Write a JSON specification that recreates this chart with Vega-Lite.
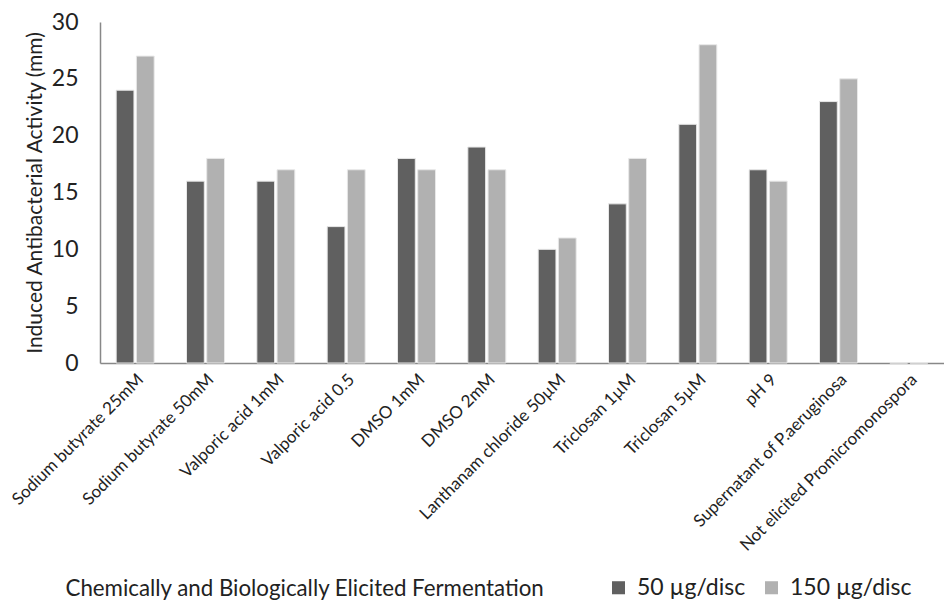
{
  "$schema": "https://vega.github.io/schema/vega-lite/v6.json",
  "width": 844,
  "height": 341,
  "autosize": "none",
  "padding": {"left": 100, "top": 22, "right": 0, "bottom": 240},
  "background": "white",
  "config": {"view": {"stroke": null}, "font": "Lato"},
  "data": {"values": [
    {"category": "Sodium butyrate 25mM", "dose": "50 µg/disc", "value": 24},
    {"category": "Sodium butyrate 25mM", "dose": "150 µg/disc", "value": 27},
    {"category": "Sodium butyrate 50mM", "dose": "50 µg/disc", "value": 16},
    {"category": "Sodium butyrate 50mM", "dose": "150 µg/disc", "value": 18},
    {"category": "Valporic acid 1mM", "dose": "50 µg/disc", "value": 16},
    {"category": "Valporic acid 1mM", "dose": "150 µg/disc", "value": 17},
    {"category": "Valporic acid 0.5", "dose": "50 µg/disc", "value": 12},
    {"category": "Valporic acid 0.5", "dose": "150 µg/disc", "value": 17},
    {"category": "DMSO 1mM", "dose": "50 µg/disc", "value": 18},
    {"category": "DMSO 1mM", "dose": "150 µg/disc", "value": 17},
    {"category": "DMSO 2mM", "dose": "50 µg/disc", "value": 19},
    {"category": "DMSO 2mM", "dose": "150 µg/disc", "value": 17},
    {"category": "Lanthanam chloride 50µM", "dose": "50 µg/disc", "value": 10},
    {"category": "Lanthanam chloride 50µM", "dose": "150 µg/disc", "value": 11},
    {"category": "Triclosan 1µM", "dose": "50 µg/disc", "value": 14},
    {"category": "Triclosan 1µM", "dose": "150 µg/disc", "value": 18},
    {"category": "Triclosan 5µM", "dose": "50 µg/disc", "value": 21},
    {"category": "Triclosan 5µM", "dose": "150 µg/disc", "value": 28},
    {"category": "pH 9", "dose": "50 µg/disc", "value": 17},
    {"category": "pH 9", "dose": "150 µg/disc", "value": 16},
    {"category": "Supernatant of P.aeruginosa", "dose": "50 µg/disc", "value": 23},
    {"category": "Supernatant of P.aeruginosa", "dose": "150 µg/disc", "value": 25},
    {"category": "Not elicited Promicromonospora", "dose": "50 µg/disc", "value": 0},
    {"category": "Not elicited Promicromonospora", "dose": "150 µg/disc", "value": 0}
  ]},
  "mark": {"type": "bar", "stroke": "#e8e8e8", "strokeWidth": 1},
  "encoding": {
    "x": {
      "field": "category", "type": "nominal", "sort": null,
      "scale": {"paddingInner": 0.46, "paddingOuter": 0.23},
      "axis": {
        "title": "Chemically and Biologically Elicited Fermentation",
        "titleFontSize": 22.3, "titleFontWeight": "normal", "titleColor": "#222",
        "titleAnchor": "start", "titleAlign": "left", "titleX": -35, "titleY": 225, "titleBaseline": "middle",
        "labelAngle": -45, "labelFontSize": 17, "labelColor": "#222", "labelPadding": 8,
        "ticks": false, "domainColor": "#888", "domainWidth": 1.5, "labelLimit": 300
      }
    },
    "xOffset": {"field": "dose", "type": "nominal", "sort": ["50 µg/disc", "150 µg/disc"], "scale": {"paddingInner": 0.12}},
    "y": {
      "field": "value", "type": "quantitative",
      "scale": {"domain": [0, 30]},
      "axis": {
        "title": "Induced Antibacterial Activity (mm)",
        "titleFontSize": 21, "titleFontWeight": "normal", "titleColor": "#222", "titlePadding": 6,
        "values": [0, 5, 10, 15, 20, 25, 30],
        "labelFontSize": 23, "labelColor": "#222", "labelPadding": 22,
        "ticks": false, "grid": false, "domainColor": "#888", "domainWidth": 1.5
      }
    },
    "color": {
      "field": "dose", "type": "nominal", "sort": ["50 µg/disc", "150 µg/disc"],
      "scale": {"range": ["#606060", "#b1b1b1"]},
      "legend": {
        "title": null, "orient": "none", "direction": "horizontal",
        "legendX": 507, "legendY": 554,
        "symbolType": "square", "symbolSize": 170, "symbolStrokeWidth": 0,
        "labelFontSize": 23, "labelColor": "#222", "columnPadding": 14, "labelOffset": 7
      }
    }
  }
}
